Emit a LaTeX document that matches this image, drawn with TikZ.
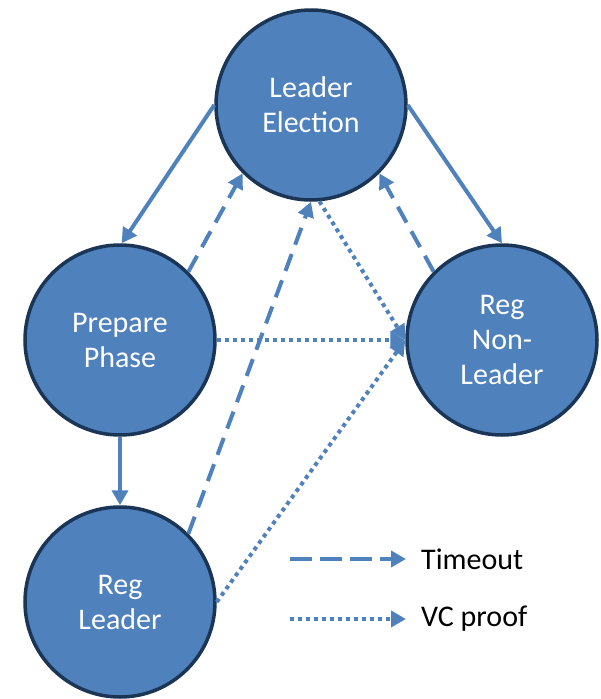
\documentclass[tikz,border=0pt]{standalone}
\usepackage{fontspec}
\setmainfont{Carlito}
\usetikzlibrary{arrows.meta}
\definecolor{stateblue}{HTML}{4F81BD}
\definecolor{stateedge}{HTML}{1B3556}
\definecolor{linkblue}{HTML}{4F81BD}
\begin{document}
\begin{tikzpicture}[x=1pt,y=-1pt,
  state/.style={circle, fill=stateblue, draw=stateedge, line width=3.5pt,
    minimum size=190pt, inner sep=0pt, text=white, align=center,
    font=\fontsize{30}{35}\selectfont},
  link/.style={draw=linkblue, line width=4pt,
    -{Triangle[length=15pt,width=16pt]}},
  timeout/.style={link, dash pattern=on 18pt off 10pt},
  vcproof/.style={link, dash pattern=on 4pt off 4pt},
  legendtext/.style={anchor=west, inner sep=0pt,
    font=\fontsize{30}{35}\selectfont}]
\useasboundingbox (0,0) rectangle (601,699);

% states
\node[state] (le)  at (311,105) {Leader\\Election};
\node[state] (pp)  at (120,340) {Prepare\\Phase};
\node[state] (rnl) at (502,340) {Reg\\Non-\\Leader};
\node[state] (rl)  at (120,602) {Reg\\Leader};

% normal transitions
\draw[link] (le.west) -- (pp.89);
\draw[link] (le.east) -- (rnl.north);
\draw[link] (pp.south) -- (rl.north);

% timeouts back to leader election
\draw[timeout] (pp.45) -- (le.225);
\draw[timeout] (rnl.135) -- (le.315);
\draw[timeout] (rl.45) -- (le.south);

% view-change proofs
\draw[vcproof] (le.275) -- (rnl.west);
\draw[vcproof] (pp.east) -- (rnl.west);
\draw[vcproof] (rl.east) -- (rnl.west);

% legend
\coordinate (ta) at (290,559);
\coordinate (tb) at (406,559);
\coordinate (va) at (290,619);
\coordinate (vb) at (406,619);
\draw[timeout, dash pattern=on 22pt off 8pt] (ta) -- (tb);
\draw[vcproof] (va) -- (vb);
\node[legendtext] (tlabel) at (421,559) {Timeout};
\node[legendtext] (vlabel) at (421,619) {VC proof};
\end{tikzpicture}
\end{document}
